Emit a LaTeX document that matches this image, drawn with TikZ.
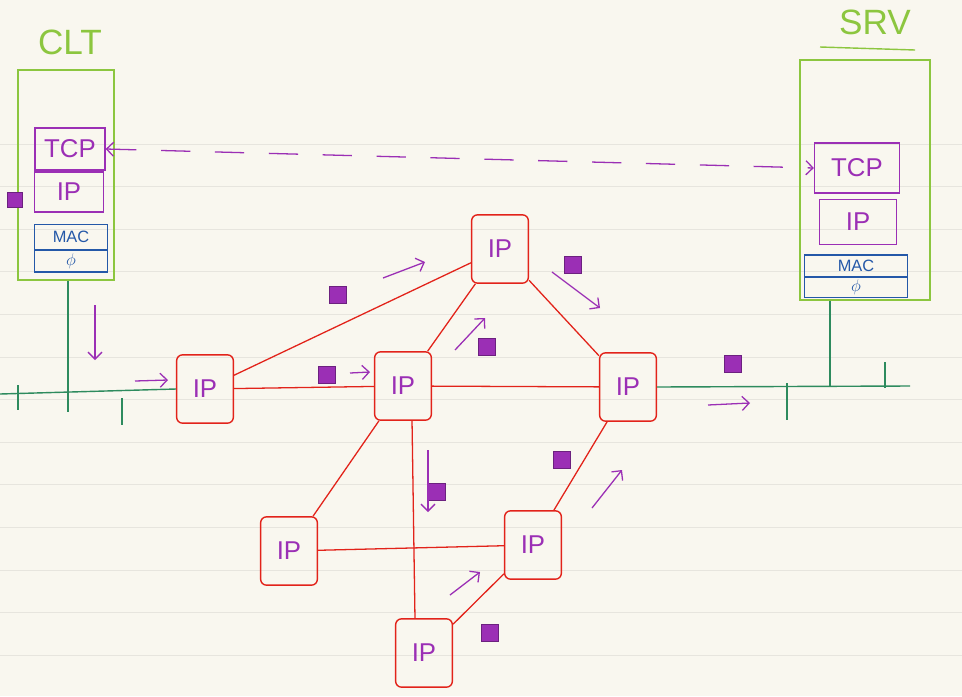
\documentclass[tikz,border=0pt]{standalone}
\usepackage{fontspec}
\setmainfont{Liberation Sans}
\usepackage{tikz}
\usetikzlibrary{arrows.meta,positioning,calc}
\definecolor{paper}{HTML}{F9F7EF}
\definecolor{ruleline}{HTML}{E7E5DE}
\definecolor{hostgreen}{HTML}{8CC63F}
\definecolor{langreen}{HTML}{2E8B5E}
\definecolor{routerred}{HTML}{E2231A}
\definecolor{pktpurple}{HTML}{9B2FB5}
\definecolor{linkblue}{HTML}{2458A8}

\begin{document}
\begin{tikzpicture}[
    x=0.03cm, y=-0.03cm,
    host/.style={rectangle, draw=hostgreen, line width=1.2pt, inner sep=0pt},
    hostlabel/.style={font=\fontsize{30}{32}\selectfont, text=hostgreen},
    layer/.style={rectangle, draw=pktpurple, line width=1.1pt, inner sep=0pt, text=pktpurple, font=\fontsize{22}{24}\selectfont},
    phys/.style={rectangle, draw=linkblue, line width=1.1pt, inner sep=0pt, text=linkblue, font=\fontsize{14}{15}\selectfont},
    router/.style={rectangle, draw=routerred, rounded corners=5pt, line width=1.2pt, minimum width=1.7cm, minimum height=2.05cm, text=pktpurple, font=\fontsize{22}{24}\selectfont},
    link/.style={routerred, line width=1.1pt},
    net/.style={langreen, line width=1.2pt},
    pkt/.style={rectangle, fill=pktpurple, draw=pktpurple!70!black, minimum size=0.5cm, inner sep=0pt},
    flow/.style={-{Straight Barb[length=6pt]}, pktpurple, line width=1.1pt}
]

% Paper
\fill[paper] (0,0) rectangle (962,696);
\useasboundingbox (0,0) rectangle (962,696);
\foreach \i in {0,...,12}
    \draw[ruleline, line width=0.8pt] (0,144+42.6*\i) -- (962,144+42.6*\i);

% Client stack
\node[hostlabel] (cltlabel) at (70,42) {CLT};
\node[host, minimum width=2.88cm, minimum height=6.3cm] (clt) at (66,175) {};
\node[layer, minimum width=2.1cm, minimum height=1.26cm] (ctcp) at (70,149) {TCP};
\node[layer, minimum width=2.05cm, minimum height=1.2cm] (cip) at (69,192) {IP};
\node[phys, minimum width=2.2cm, minimum height=0.75cm] (cmac) at (71,237) {MAC};
\node[phys, minimum width=2.2cm, minimum height=0.66cm] (cphy) at (71,261) {$\phi$};
\node[pkt, minimum size=0.45cm] (p0) at (15,200) {};

% Server stack
\node[hostlabel] (srvlabel) at (875,22) {SRV};
\draw[hostgreen, line width=1.2pt] (820,47) -- (915,50);
\node[host, minimum width=3.9cm, minimum height=7.2cm] (srv) at (865,180) {};
\node[layer, minimum width=2.55cm, minimum height=1.5cm] (stcp) at (857,168) {TCP};
\node[layer, minimum width=2.3cm, minimum height=1.35cm] (sip) at (858,222) {IP};
\node[phys, minimum width=3.1cm, minimum height=0.66cm] (smac) at (856,266) {MAC};
\node[phys, minimum width=3.1cm, minimum height=0.63cm] (sphy) at (856,287) {$\phi$};

% TCP end to end
\draw[flow, {Straight Barb[length=6pt]}-{Straight Barb[length=6pt]}, dash pattern=on 25pt off 21pt] (ctcp.east) -- (stcp.west);

% Routers
\node[router] (r1) at (205,389) {IP};
\node[router] (r2) at (500,249) {IP};
\node[router] (r3) at (403,386) {IP};
\node[router] (r4) at (628,387) {IP};
\node[router] (r5) at (289,551) {IP};
\node[router] (r6) at (533,545) {IP};
\node[router] (r7) at (424,653) {IP};

\draw[link] (r1) -- (r2);
\draw[link] (r1) -- (r3);
\draw[link] (r2) -- (r3);
\draw[link] (r2) -- (r4);
\draw[link] (r3) -- (r4);
\draw[link] (r3) -- (r5);
\draw[link] ([xshift=7.7pt]r3.south) -- ([xshift=-7.7pt]r7.north);
\draw[link] (r5) -- (r6);
\draw[link] (r4) -- (r6);
\draw[link] (r6) -- (r7);

% LANs
\coordinate (lanl) at (0,394);
\coordinate (lanr) at (910,386);
\coordinate (ctap) at (68,412);
\coordinate (stap) at (830,386);
\draw[net] (lanl) -- (r1.west);
\draw[net] (ctap |- clt.south) -- (ctap);
\draw[net] (18,385) -- (18,410);
\draw[net] (122,398) -- (122,425);
\draw[net] (r4.east) -- (lanr);
\draw[net] (stap |- srv.south) -- (stap);
\draw[net] (787,383) -- (787,420);
\draw[net] (885,362) -- (885,388);

% Packets on the way
\node[pkt] (p1) at (338,295) {};
\node[pkt] (p2) at (573,265) {};
\node[pkt] (p3) at (487,347) {};
\node[pkt] (p4) at (327,375) {};
\node[pkt] (p5) at (437,492) {};
\node[pkt] (p6) at (562,460) {};
\node[pkt] (p7) at (490,633) {};
\node[pkt] (p8) at (733,364) {};

% Direction
\draw[flow] (95,305) -- (95,360);
\draw[flow] (135,381) -- (168,380);
\draw[flow] (383,278) -- (425,262);
\draw[flow] (552,272) -- (600,308);
\draw[flow] (455,350) -- (485,318);
\draw[flow] (350,373) -- (370,372);
\draw[flow] (428,450) -- (428,512);
\draw[flow] (592,508) -- (622,470);
\draw[flow] (450,595) -- (480,572);
\draw[flow] (708,405) -- (750,403);

\end{tikzpicture}
\end{document}
